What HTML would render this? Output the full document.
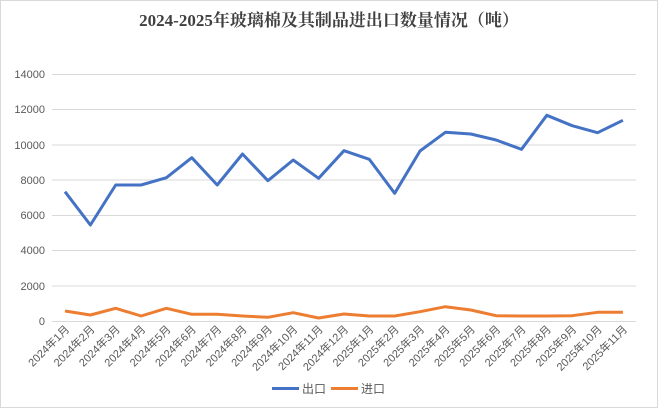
<!DOCTYPE html>
<html><head><meta charset="utf-8"><style>
html,body{margin:0;padding:0;background:#fff}
svg{display:block}
</style></head><body>
<svg width="658" height="408" xmlns="http://www.w3.org/2000/svg">
<rect x="0.5" y="0.5" width="657" height="407" fill="#fff" stroke="#d9d9d9"/>
<text x="329" y="26" text-anchor="middle" font-family="'Liberation Serif','Noto Serif CJK SC',serif" font-weight="bold" font-size="17" fill="#404040">2024-2025年玻璃棉及其制品进出口数量情况（吨）</text>
<g stroke="#d9d9d9" stroke-width="1">
<line x1="52" x2="636" y1="74.5" y2="74.5"/>
<line x1="52" x2="636" y1="109.5" y2="109.5"/>
<line x1="52" x2="636" y1="145" y2="145"/>
<line x1="52" x2="636" y1="180" y2="180"/>
<line x1="52" x2="636" y1="215.5" y2="215.5"/>
<line x1="52" x2="636" y1="250.5" y2="250.5"/>
<line x1="52" x2="636" y1="286" y2="286"/>
<line x1="52" x2="636" y1="321.5" y2="321.5"/>
</g>
<g font-family="'Liberation Sans',sans-serif" font-size="11" fill="#595959" text-anchor="end">
<text x="45" y="78">14000</text><text x="45" y="113">12000</text><text x="45" y="149">10000</text>
<text x="45" y="184">8000</text><text x="45" y="219">6000</text><text x="45" y="254">4000</text>
<text x="45" y="290">2000</text><text x="45" y="325">0</text>
</g>
<polyline fill="none" stroke="#4472c4" stroke-width="3" stroke-linejoin="round" points="65,191.7 90.4,225 115.7,185 141.1,185 166.4,177.7 191.8,157.7 217.2,185 242.5,154 267.9,180.7 293.2,160 318.6,178.3 344,150.7 369.3,159.3 394.7,193.3 420,151 445.4,132.3 470.8,134 496.1,140 521.5,149.3 546.8,115.3 572.2,125.7 597.6,132.7 622.9,120.3"/>
<polyline fill="none" stroke="#ed7d31" stroke-width="3" stroke-linejoin="round" points="65,311 90.4,315 115.7,308.3 141.1,316 166.4,308.3 191.8,314.3 217.2,314.3 242.5,316 267.9,317.3 293.2,312.7 318.6,318 344,314 369.3,316 394.7,316 420,311.7 445.4,306.7 470.8,310 496.1,315.7 521.5,316 546.8,316 572.2,315.7 597.6,312.3 622.9,312.3"/>
<g font-family="'Liberation Sans','Noto Sans CJK SC',sans-serif" font-size="11" fill="#595959" text-anchor="end">
<text transform="translate(70,330) rotate(-45)">2024年1月</text>
<text transform="translate(95.4,330) rotate(-45)">2024年2月</text>
<text transform="translate(120.7,330) rotate(-45)">2024年3月</text>
<text transform="translate(146.1,330) rotate(-45)">2024年4月</text>
<text transform="translate(171.4,330) rotate(-45)">2024年5月</text>
<text transform="translate(196.8,330) rotate(-45)">2024年6月</text>
<text transform="translate(222.2,330) rotate(-45)">2024年7月</text>
<text transform="translate(247.5,330) rotate(-45)">2024年8月</text>
<text transform="translate(272.9,330) rotate(-45)">2024年9月</text>
<text transform="translate(298.2,330) rotate(-45)">2024年10月</text>
<text transform="translate(323.6,330) rotate(-45)">2024年11月</text>
<text transform="translate(349,330) rotate(-45)">2024年12月</text>
<text transform="translate(374.3,330) rotate(-45)">2025年1月</text>
<text transform="translate(399.7,330) rotate(-45)">2025年2月</text>
<text transform="translate(425,330) rotate(-45)">2025年3月</text>
<text transform="translate(450.4,330) rotate(-45)">2025年4月</text>
<text transform="translate(475.8,330) rotate(-45)">2025年5月</text>
<text transform="translate(501.1,330) rotate(-45)">2025年6月</text>
<text transform="translate(526.5,330) rotate(-45)">2025年7月</text>
<text transform="translate(551.8,330) rotate(-45)">2025年8月</text>
<text transform="translate(577.2,330) rotate(-45)">2025年9月</text>
<text transform="translate(602.6,330) rotate(-45)">2025年10月</text>
<text transform="translate(627.9,330) rotate(-45)">2025年11月</text>
</g>
<line x1="272" x2="299" y1="388.5" y2="388.5" stroke="#4472c4" stroke-width="3"/>
<text x="302" y="393" font-family="'Liberation Sans','Noto Sans CJK SC',sans-serif" font-size="12" fill="#595959">出口</text>
<line x1="331" x2="358" y1="388.5" y2="388.5" stroke="#ed7d31" stroke-width="3"/>
<text x="361" y="393" font-family="'Liberation Sans','Noto Sans CJK SC',sans-serif" font-size="12" fill="#595959">进口</text>
</svg>
</body></html>
